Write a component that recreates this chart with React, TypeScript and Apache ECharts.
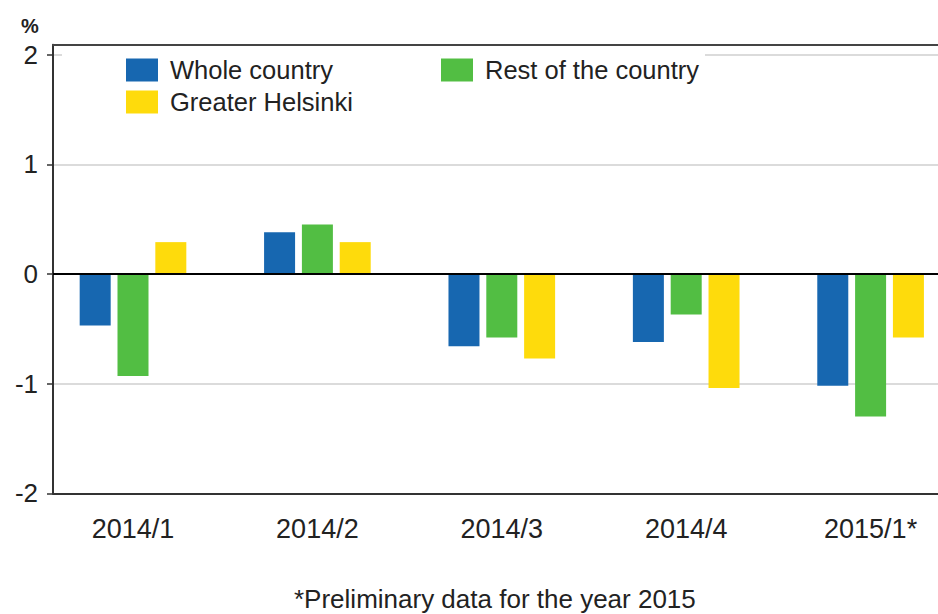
import React, { useEffect, useRef } from "react";
import * as echarts from "echarts";

const categories = ["2014/1", "2014/2", "2014/3", "2014/4", "2015/1*"];
const wholeCountry = [-0.47, 0.38, -0.66, -0.62, -1.02];
const restOfCountry = [-0.93, 0.45, -0.58, -0.37, -1.3];
const greaterHelsinki = [0.29, 0.29, -0.77, -1.04, -0.58];
const yTicks = [-2, -1, 0, 1, 2];
const yMin = -2;
const yMax = 2.09;
const footnote = "*Preliminary data for the year 2015";

const FONT = "'Liberation Sans', Arial, sans-serif";
const BLUE = "#1767b0";
const GREEN = "#52be43";
const YELLOW = "#fedb0c";

export default function App() {
  const ref = useRef<HTMLDivElement>(null);
  useEffect(() => {
    document.body.style.margin = "0";
    if (!ref.current) return;
    const chart = echarts.init(ref.current, null, { renderer: "svg" });
    const gridTop = 44.7;
    const gridBottom = 120.7;
    const legendText = { fontFamily: FONT, fontSize: 25.5, color: "#222", padding: [0, 0, 0, 7] };
    chart.setOption({
      animation: false,
      textStyle: { fontFamily: FONT },
      title: [
        { text: "%", left: 16, top: 11, textStyle: { fontFamily: FONT, fontSize: 20, fontWeight: "bold", color: "#222" } },
        { text: footnote, left: 289, top: 581, textStyle: { fontFamily: FONT, fontSize: 26, fontWeight: "normal", color: "#222" } },
      ],
      legend: [
        {
          data: ["Whole country", "Greater Helsinki"],
          orient: "vertical",
          left: 62,
          top: 46,
          padding: [11, 88, 6, 64],
          itemGap: 6,
          itemWidth: 32,
          itemHeight: 23,
          icon: "rect",
          backgroundColor: "#fff",
          textStyle: legendText,
          selectedMode: false,
        },
        {
          data: ["Rest of the country"],
          orient: "vertical",
          left: 441,
          top: 46,
          padding: [11, 6, 35, 0],
          itemGap: 6,
          itemWidth: 32,
          itemHeight: 23,
          icon: "rect",
          backgroundColor: "#fff",
          textStyle: legendText,
          selectedMode: false,
        },
      ],
      grid: [
        { left: 40.8, width: 922, top: gridTop, bottom: gridBottom, containLabel: false, outerBoundsMode: "none" },
        { left: 53, right: 0, top: gridTop, bottom: gridBottom, containLabel: false, outerBoundsMode: "none" },
      ],
      xAxis: [
        {
          gridIndex: 0,
          type: "category",
          data: categories,
          axisLine: { show: false },
          axisTick: { show: false },
          axisLabel: { fontFamily: FONT, fontSize: 27, color: "#222", margin: 22 },
          splitLine: { show: false },
        },
        {
          gridIndex: 1,
          type: "category",
          data: [""],
          position: "bottom",
          axisLine: { show: true, onZero: false, lineStyle: { color: "#333", width: 2 } },
          axisTick: { show: false },
          axisLabel: { show: false },
          splitLine: { show: false },
        },
        {
          gridIndex: 1,
          type: "category",
          data: [""],
          position: "top",
          axisLine: { show: true, onZero: false, lineStyle: { color: "#444", width: 2 } },
          axisTick: { show: false },
          axisLabel: { show: false },
          splitLine: { show: false },
        },
      ],
      yAxis: [
        {
          gridIndex: 0,
          type: "value",
          min: yMin,
          max: yMax,
          interval: 1,
          show: false,
          splitLine: { show: false },
        },
        {
          gridIndex: 1,
          type: "value",
          min: yMin,
          max: yMax,
          interval: 1,
          axisLine: { show: true, onZero: false, lineStyle: { color: "#333", width: 2 } },
          axisTick: { show: true, length: 6, customValues: yTicks, lineStyle: { color: "#333", width: 1.5 } },
          axisLabel: {
            customValues: yTicks,
            fontFamily: FONT,
            fontSize: 26,
            color: "#222",
            margin: 15,
            formatter: (v: number) => (Number.isInteger(v) ? String(v) : ""),
          },
          splitLine: { show: true, lineStyle: { color: "#cfcfcf", width: 1.5 } },
        },
      ],
      series: [
        {
          name: "Whole country",
          type: "bar",
          xAxisIndex: 0,
          yAxisIndex: 0,
          data: wholeCountry,
          barWidth: 31,
          barGap: "22%",
          itemStyle: { color: BLUE },
        },
        {
          name: "Rest of the country",
          type: "bar",
          xAxisIndex: 0,
          yAxisIndex: 0,
          data: restOfCountry,
          barWidth: 31,
          barGap: "22%",
          itemStyle: { color: GREEN },
        },
        {
          name: "Greater Helsinki",
          type: "bar",
          xAxisIndex: 0,
          yAxisIndex: 0,
          data: greaterHelsinki,
          barWidth: 31,
          barGap: "22%",
          itemStyle: { color: YELLOW },
        },
        {
          name: "zero",
          type: "line",
          xAxisIndex: 1,
          yAxisIndex: 1,
          data: [],
          markLine: {
            silent: true,
            symbol: ["none", "none"],
            label: { show: false },
            lineStyle: { color: "#000", width: 2, type: "solid" },
            data: [{ yAxis: 0 }],
          },
        },
      ],
    });
    return () => chart.dispose();
  }, []);
  return (
    <div
      ref={ref}
      style={{ position: "absolute", left: 0, top: 0, width: 938, height: 614 }}
    />
  );
}
